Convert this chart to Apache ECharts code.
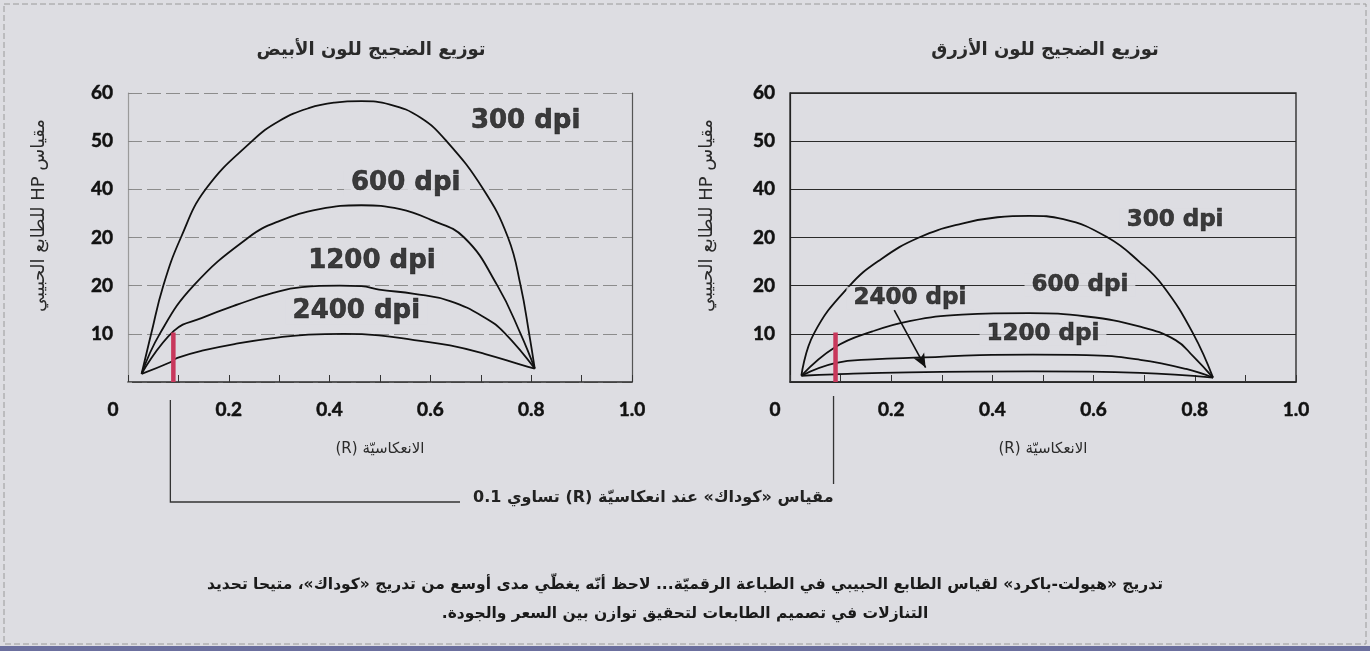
<!DOCTYPE html>
<html><head><meta charset="utf-8">
<script src="https://cdn.jsdelivr.net/npm/echarts@6/dist/echarts.min.js"></script>
<style>html,body{margin:0;padding:0;background:#dddde2;} #c{width:1370px;height:651px;}</style>
</head><body><div id="c"></div>
<script>
// ---------- data ----------
const xTickLabels = ['0','','0.2','','0.4','','0.6','','0.8','','1.0'];
const yTickLabels = ['','10','20','20','40','50','60'];
const kodakR = 0.09;
const kodakBar = [[kodakR,0],[kodakR,10.3]];

// white noise (left chart): [reflectance R, HP graininess]
const white300 = [[0.027,1.7],[0.046,10],[0.070,20],[0.105,30],[0.154,40],[0.246,50],[0.30,54.2],[0.36,56.9],[0.41,58.0],[0.463,58.3],[0.52,57.6],[0.58,54.9],[0.632,50],[0.705,40],[0.754,30],[0.779,20],[0.796,10],[0.807,2.8]];
const white600 = [[0.027,1.7],[0.063,10],[0.130,20],[0.239,30],[0.30,33.4],[0.38,35.9],[0.463,36.7],[0.54,35.9],[0.60,33.7],[0.667,30],[0.733,20],[0.779,10],[0.807,2.8]];
const white1200 = [[0.027,1.7],[0.091,10.6],[0.147,13.3],[0.218,16.1],[0.288,18.5],[0.345,19.7],[0.42,20],[0.463,19.9],[0.498,19.2],[0.568,18.3],[0.639,16.8],[0.709,13.3],[0.747,10.2],[0.807,2.8]];
const white2400 = [[0.027,1.7],[0.084,4.1],[0.098,5.0],[0.147,6.5],[0.218,8.0],[0.288,9.1],[0.358,9.85],[0.428,10],[0.498,9.7],[0.568,8.7],[0.639,7.6],[0.709,5.8],[0.779,3.6],[0.807,2.8]];

// blue noise (right chart)
const blue300 = [[0.0225,1.3],[0.047,10],[0.118,20],[0.18,25.5],[0.255,30],[0.34,32.9],[0.41,34.2],[0.473,34.5],[0.54,33.8],[0.628,30],[0.69,25],[0.737,20],[0.797,10],[0.836,0.9]];
const blue600 = [[0.0225,1.3],[0.089,7.2],[0.163,10.5],[0.234,12.6],[0.34,14.0],[0.473,14.3],[0.586,13.6],[0.692,11.5],[0.762,8.7],[0.797,5.3],[0.836,0.9]];
const blue1200 = [[0.0225,1.3],[0.089,3.9],[0.163,4.7],[0.266,5.1],[0.375,5.6],[0.48,5.7],[0.586,5.6],[0.692,4.6],[0.783,2.7],[0.836,0.9]];
const blue2400 = [[0.0225,1.3],[0.089,1.6],[0.234,2.0],[0.48,2.2],[0.692,1.9],[0.836,0.9]];

// curve annotations: [text, R, value]
const whiteLabels = [['300 dpi',0.789,54.2],['600 dpi',0.551,41.2],['1200 dpi',0.484,25.0],['2400 dpi',0.453,14.7]];
const blueLabels = [['300 dpi',0.761,33.6],['600 dpi',0.573,20.2],['1200 dpi',0.50,9.9],['2400 dpi',0.237,17.4]];
const blueArrow = [[0.206,14.9],[0.268,3.0]];

// texts
const RLE = '\u202B', PDF = '\u202C';
const ar = s => RLE + s + PDF;
const titleWhite = 'توزيع الضجيج للون الأبيض';
const titleBlue = 'توزيع الضجيج للون الأزرق';
const yName = 'مقياس HP للطابع الحبيبي';
const xName = 'الانعكاسيّة (R)';
const kodakNote = 'مقياس «كوداك» عند انعكاسيّة (R) تساوي 0.1';
const caption1 = 'تدريج «هيولت-باكرد» لقياس الطابع الحبيبي في الطباعة الرقميّة... لاحظ أنّه يغطّي مدى أوسع من تدريج «كوداك»، متيحا تحديد';
const caption2 = 'التنازلات في تصميم الطابعات لتحقيق توازن بين السعر والجودة.';

// ---------- chart ----------
const BG = '#dddde2';
const INK = '#111';
const ARFONT = 'DejaVu Sans';
const NUMFONT = 'Lato';
const chart = echarts.init(document.getElementById('c'), null, {renderer:'canvas'});
const numStyle = {fontFamily:NUMFONT, fontWeight:'bold', fontSize:19, color:INK, textBorderColor:INK, textBorderWidth:0.5};

function xAxis(gi) {
  return {
    type:'value', gridIndex:gi, min:0, max:1, interval:0.1,
    name: ar(xName), nameLocation:'middle', nameGap:60,
    nameTextStyle:{fontFamily:ARFONT, fontSize:15, color:'#2a2a2a'},
    axisLine:{show:true, onZero:false, lineStyle:{color:'#2a2a2a', width:1.5}},
    axisTick:{show:true, inside:true, length:7, lineStyle:{color:'#333', width:1}},
    splitLine:{show:false},
    axisLabel:Object.assign({
      margin:18,
      formatter: v => { const i = Math.round(v*10); const s = xTickLabels[i] || ''; return i===0 ? '{z|'+s+'}' : s; },
      rich:{z:Object.assign({padding:[0,30,0,0]}, numStyle)}
    }, numStyle)
  };
}
function yAxis(gi, dashed) {
  return {
    type:'value', gridIndex:gi, min:0, max:60, interval:10,
    name: ar(yName), nameLocation:'middle', nameRotate:90, nameGap: gi===0 ? 80 : 74,
    nameTextStyle:{fontFamily:ARFONT, fontSize:18, color:'#2a2a2a', padding:[0,0,0,44]},
    axisLine:{show:true, lineStyle:{color: dashed ? '#9a9a9a' : '#222', width:1.2}},
    axisTick:{show:dashed, inside:true, length:4, lineStyle:{color:'#888'}},
    splitLine:{show:true, lineStyle: dashed ? {color:'#8c8c8c', width:1, type:[14,5]} : {color:'#2a2a2a', width:1.2}},
    axisLabel:Object.assign({margin:15, formatter: v => yTickLabels[Math.round(v/10)] || ''}, numStyle)
  };
}
function curve(data, xi) {
  return {type:'line', xAxisIndex:xi, yAxisIndex:xi===0?0:2, data, showSymbol:false, symbol:'none',
    smooth:0.45, lineStyle:{color:INK, width:1.8}, z:3, silent:true};
}
function redBar(xi) {
  return {type:'line', xAxisIndex:xi, yAxisIndex:xi===0?0:2, data:kodakBar, symbol:'none',
    lineStyle:{color:'#c8385c', width:4.5}, z:4, silent:true};
}
function labels(xi, arr, size, arrow) {
  const s = {type:'scatter', xAxisIndex:xi, yAxisIndex:xi===0?0:2, symbolSize:1, z:6, silent:true,
    itemStyle:{color:'rgba(0,0,0,0)'},
    data: arr.map(a => ({name:a[0], value:[a[1], a[2]]})),
    label:{show:true, position:'inside', formatter: p => p.name, fontFamily:ARFONT, fontWeight:'bold',
      fontSize:size, color:INK, textBorderColor:INK, textBorderWidth:0.6, backgroundColor:BG, padding:[0,7]}};
  if (arrow) {
    s.markLine = {silent:true, symbol:['none','arrow'], symbolSize:[9,14], label:{show:false},
      lineStyle:{color:INK, width:1.6, type:'solid'},
      data:[[{coord:arrow[0]},{coord:arrow[1]}]]};
  }
  return s;
}

const option = {
  backgroundColor: BG,
  animation:false,
  title:[
    {text: ar(titleWhite), left:366, top:36, textAlign:'center', textStyle:{fontFamily:ARFONT, fontSize:18, fontWeight:'bold', color:'#2a2a2a'}},
    {text: ar(titleBlue), left:1040, top:36, textAlign:'center', textStyle:{fontFamily:ARFONT, fontSize:18, fontWeight:'bold', color:'#2a2a2a'}}
  ],
  grid:[
    {left:128, right:738, top:93, bottom:269, show:false},
    {left:790, right:74, top:93, bottom:269, show:true, borderColor:'#222', borderWidth:1.3, backgroundColor:'transparent'}
  ],
  xAxis:[xAxis(0), xAxis(1)],
  yAxis:[
    yAxis(0, true),
    {type:'value', gridIndex:0, min:0, max:60, position:'right', axisLine:{show:true, lineStyle:{color:'#555', width:1.2}}, axisTick:{show:false}, axisLabel:{show:false}, splitLine:{show:false}},
    yAxis(1, false)
  ],
  series:[
    curve(white300,0), curve(white600,0), curve(white1200,0), curve(white2400,0), redBar(0),
    labels(0, whiteLabels, 26, null),
    curve(blue300,1), curve(blue600,1), curve(blue1200,1), curve(blue2400,1), redBar(1),
    labels(1, blueLabels, 23, blueArrow)
  ]
};
chart.setOption(option);

// annotation leaders for the Kodak reference, placed from the axis scale
const pL = chart.convertToPixel({gridIndex:0}, [kodakR, 0]);
const pR = chart.convertToPixel({gridIndex:1}, [kodakR, 0]);
const lx = pL[0] - 3, rx = pR[0] - 2;
chart.setOption({graphic:[
  {type:'polyline', shape:{points:[[lx,400],[lx,502],[460,502]]}, style:{stroke:'#333', lineWidth:1.3, fill:null}},
  {type:'line', shape:{x1:rx, y1:396, x2:rx, y2:484}, style:{stroke:'#333', lineWidth:1.3}},
  {type:'text', x:rx, y:498, style:{text: ar(kodakNote), fontFamily:ARFONT, fontSize:16, fontWeight:'bold', fill:'#222', align:'right', verticalAlign:'middle'}},
  {type:'text', x:685, y:585, style:{text: ar(caption1), fontFamily:ARFONT, fontSize:15.5, fontWeight:'bold', fill:'#1a1a1a', align:'center', verticalAlign:'middle'}},
  {type:'text', x:685, y:614, style:{text: ar(caption2), fontFamily:ARFONT, fontSize:15.5, fontWeight:'bold', fill:'#1a1a1a', align:'center', verticalAlign:'middle'}},
  {type:'rect', shape:{x:4, y:4, width:1362, height:640}, style:{stroke:'#9a9a9a', lineWidth:1, fill:null, lineDash:[6,3]}},
  {type:'rect', shape:{x:0, y:646, width:1370, height:5}, style:{fill:'#6b6f9e'}}
]});
</script></body></html>
